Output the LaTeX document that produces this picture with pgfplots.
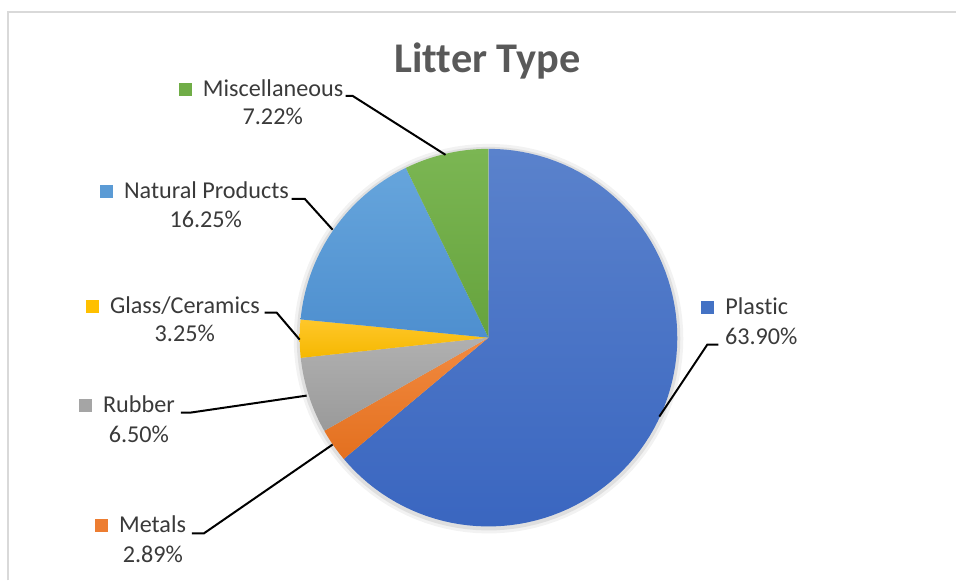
\documentclass[border=0pt]{standalone}
\usepackage{pgfplots}
\pgfplotsset{compat=1.18}
\usepackage{pgfplotstable}
\usepackage{fontspec}
\setmainfont[Ligatures={NoCommon}]{Carlito}

\definecolor{cPlastic}{HTML}{4472C4}
\definecolor{cMetals}{HTML}{ED7D31}
\definecolor{cRubber}{HTML}{A5A5A5}
\definecolor{cGlass}{HTML}{FFC000}
\definecolor{cNatural}{HTML}{5B9BD5}
\definecolor{cMisc}{HTML}{70AD47}
\definecolor{tPlastic}{HTML}{5A82CC}\definecolor{bPlastic}{HTML}{3A66C0}
\definecolor{tMetals}{HTML}{F28A40}\definecolor{bMetals}{HTML}{E3701F}
\definecolor{tRubber}{HTML}{B0B0B0}\definecolor{bRubber}{HTML}{9A9A9A}
\definecolor{tGlass}{HTML}{FFC72A}\definecolor{bGlass}{HTML}{F5B800}
\definecolor{tNatural}{HTML}{66A5DC}\definecolor{bNatural}{HTML}{4E8FCF}
\definecolor{tMisc}{HTML}{7BB653}\definecolor{bMisc}{HTML}{66A33D}
\definecolor{txt}{HTML}{3A3A3A}
\definecolor{ttl}{HTML}{595959}
\definecolor{frame}{HTML}{D9D9D9}

\pgfplotstableread{
name value
Plastic 63.90
Metals 2.89
Rubber 6.50
Glass 3.25
Natural 16.25
Misc 7.22
}\litter

% cumulative angles, clockwise from 12 o'clock
\pgfmathsetmacro\aZero{90}
\pgfplotstablegetelem{0}{value}\of\litter \pgfmathsetmacro\aOne{\aZero-3.6*\pgfplotsretval}
\pgfplotstablegetelem{1}{value}\of\litter \pgfmathsetmacro\aTwo{\aOne-3.6*\pgfplotsretval}
\pgfplotstablegetelem{2}{value}\of\litter \pgfmathsetmacro\aThree{\aTwo-3.6*\pgfplotsretval}
\pgfplotstablegetelem{3}{value}\of\litter \pgfmathsetmacro\aFour{\aThree-3.6*\pgfplotsretval}
\pgfplotstablegetelem{4}{value}\of\litter \pgfmathsetmacro\aFive{\aFour-3.6*\pgfplotsretval}
\pgfmathsetmacro\aSix{-270}

\newcommand\slice[3]{%
  \addplot[draw=none, top color=t#3, bottom color=b#3, domain=#2:#1, samples=90]
    ({489+189*cos(x)},{338-189*sin(x)}) -- (axis cs:489,338) -- cycle;}

\newcommand\sq[1]{\textcolor{#1}{\rule[0.5bp]{13bp}{13bp}}\hspace{11bp}}

\begin{document}
\begin{tikzpicture}
\begin{axis}[
  width=957bp, height=581bp, scale only axis,
  xmin=0, xmax=957, ymin=0, ymax=581, y dir=reverse,
  hide axis, clip=false,
]
\path (axis cs:0,0) rectangle (axis cs:957,581);
% chart frame
\addplot[frame, line width=2bp] coordinates {(8,581) (8,12) (957,12)};

% soft shadow
\addplot[draw=none, fill=black, fill opacity=0.05, domain=0:360, samples=120]
  ({489+195*cos(x)},{339-195*sin(x)}) -- cycle;
\addplot[draw=none, fill=black, fill opacity=0.08, domain=0:360, samples=120]
  ({489+192*cos(x)},{339-192*sin(x)}) -- cycle;

\slice{\aZero}{\aOne}{Plastic}
\slice{\aOne}{\aTwo}{Metals}
\slice{\aTwo}{\aThree}{Rubber}
\slice{\aThree}{\aFour}{Glass}
\slice{\aFour}{\aFive}{Natural}
\slice{\aFive}{\aSix}{Misc}

% leader lines
\addplot[black, line width=2bp] coordinates {(346,96) (353,96) (446,155)};
\addplot[black, line width=2bp] coordinates {(292,199) (305,199) (333,230)};
\addplot[black, line width=2bp] coordinates {(265,313) (277,313) (300,340)};
\addplot[black, line width=2bp] coordinates {(181,413) (191,413) (307,396)};
\addplot[black, line width=2bp] coordinates {(192,534) (204,534) (333,445)};
\addplot[black, line width=2bp] coordinates {(719,345) (708,345) (660,417)};

% title
\node[anchor=base, text=ttl, font={\fontsize{42.5}{50}\selectfont\bfseries}, inner sep=0pt]
  at (axis cs:488,73) {Litter Type};

% labels
\begin{scope}[every node/.style={text=txt, font={\fontsize{24.3}{29}\selectfont}, inner sep=0pt}]
\node[anchor=base west] at (axis cs:179,97) {\sq{cMisc}Miscellaneous};
\node[anchor=base] at (axis cs:273,125) {7.22\%};
\node[anchor=base west] at (axis cs:100,199) {\sq{cNatural}Natural Products};
\node[anchor=base] at (axis cs:206,228) {16.25\%};
\node[anchor=base west] at (axis cs:86,314) {\sq{cGlass}Glass/Ceramics};
\node[anchor=base] at (axis cs:185,342) {3.25\%};
\node[anchor=base west] at (axis cs:79,413) {\sq{cRubber}Rubber};
\node[anchor=base] at (axis cs:139,443) {6.50\%};
\node[anchor=base west] at (axis cs:95,533) {\sq{cMetals}Metals};
\node[anchor=base] at (axis cs:153,563) {2.89\%};
\node[anchor=base west] at (axis cs:702,315) {\sq{cPlastic}Plastic};
\node[anchor=base] at (axis cs:762,345) {63.90\%};
\end{scope}
\end{axis}
\end{tikzpicture}
\end{document}
